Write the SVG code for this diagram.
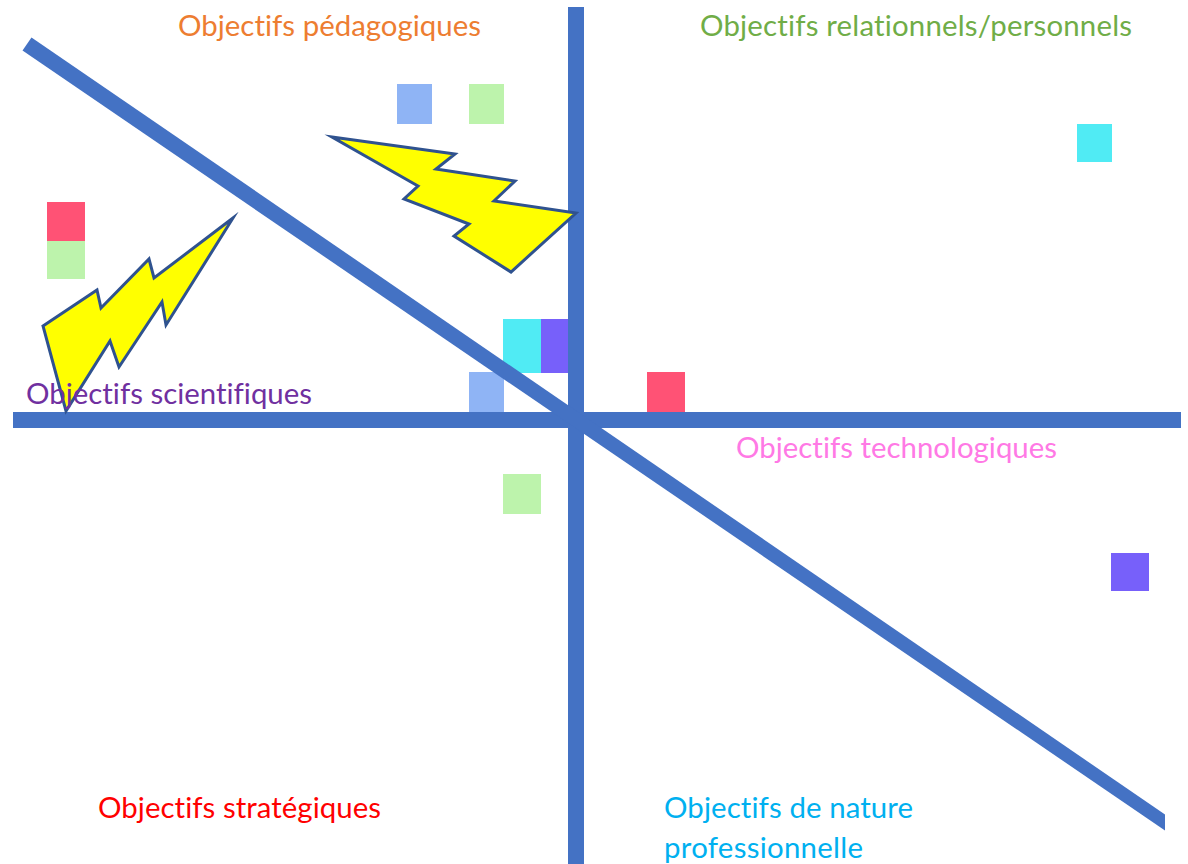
<svg xmlns="http://www.w3.org/2000/svg" width="1188" height="864" viewBox="0 0 1188 864">
<style>
.t{font-family:"Lato","Open Sans","Liberation Sans",sans-serif;font-size:29.4px;font-variant-ligatures:none;lengthAdjust:spacing}
.ax{fill:#4472C4}
.b{fill:#FFFF00;stroke:#2F528F;stroke-width:3;stroke-linejoin:miter;stroke-miterlimit:10}
.blue{fill:#8FB4F5}.green{fill:#BDF3AC}.cyan{fill:#50EBF4}.red{fill:#FF5275}.purple{fill:#7760FA}
</style>
<rect width="1188" height="864" fill="#fff"/>
<g id="markers">
<rect class="blue" x="397" y="84" width="35" height="40"/>
<rect class="green" x="469" y="84" width="35" height="40"/>
<rect class="cyan" x="1077" y="124" width="35" height="38"/>
<rect class="red" x="47" y="202" width="38" height="39"/>
<rect class="green" x="47" y="241" width="38" height="38"/>
<rect class="cyan" x="503" y="319" width="38" height="54"/>
<rect class="purple" x="541" y="319" width="27" height="54"/>
<rect class="blue" x="469" y="372" width="35" height="40"/>
<rect class="red" x="647" y="372" width="38" height="40"/>
<rect class="green" x="503" y="474" width="38" height="40"/>
<rect class="purple" x="1111" y="553" width="38" height="38"/>
</g>
<g id="connectors">
<rect class="ax" x="568" y="7" width="16" height="857"/>
<rect class="ax" x="13" y="412" width="1168" height="16"/>
<polygon class="ax" points="31.500,37.400 1165,814.500 1165,830.500 22.500,50.600"/>
</g>
<g id="bolts">
<polygon class="b" points="332,137 455,154 436,169 515,181 494,201 576,213 511,272 454,236 469,224 404,199 418,186"/>
<polygon class="b" points="43,326 97,290 101,308 149,259 154,278 233,218 166,325 162,302 119,367 110,341 66,411"/>
</g>
<g id="labels">
<text class="t" x="178" y="36" fill="#ED7D31" textLength="303">Objectifs pédagogiques</text>
<text class="t" x="700" y="36" fill="#70AD47" textLength="432">Objectifs relationnels/personnels</text>
<text class="t" x="26" y="404" fill="#7030A0" textLength="286">Objectifs scientifiques</text>
<text class="t" x="736" y="458" fill="#FF79E5" textLength="321">Objectifs technologiques</text>
<text class="t" x="98" y="818" fill="#FF0000" textLength="283">Objectifs stratégiques</text>
<text class="t" x="664" y="818" fill="#00B0F0" textLength="249">Objectifs de nature</text>
<text class="t" x="664" y="858" fill="#00B0F0" textLength="199">professionnelle</text>
</g>
</svg>
